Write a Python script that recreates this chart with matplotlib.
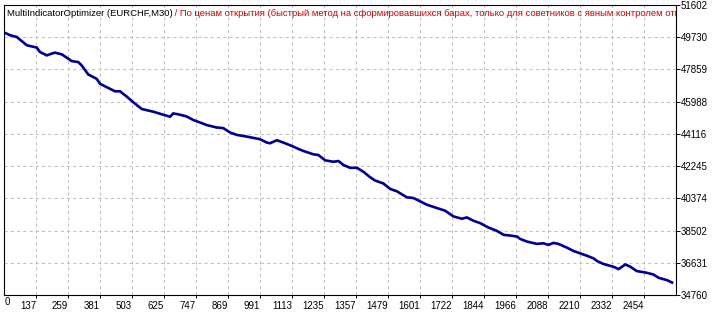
import matplotlib.pyplot as plt
import numpy as np

# balance curve
trades = [19, 38, 63, 82, 102, 140, 152, 178, 197, 209, 235, 254, 273, 298, 311,
          336, 368, 381, 407, 438, 457, 483, 508, 540, 584, 622, 648, 660, 673, 686,
          711, 737, 762, 788, 826, 851, 877, 902, 940, 959, 991, 1017, 1029, 1055,
          1080, 1112, 1131, 1156, 1194, 1213, 1239, 1270, 1290, 1309, 1334, 1360,
          1385, 1410, 1429, 1461, 1487, 1512, 1550, 1575, 1601, 1626, 1665, 1696,
          1728, 1760, 1779, 1804, 1830, 1861, 1893, 1919, 1944, 1970, 1982, 2008,
          2046, 2071, 2090, 2109, 2128, 2160, 2185, 2211, 2236, 2262, 2275, 2300,
          2338, 2357, 2383, 2402, 2427, 2465, 2490, 2510, 2542, 2561]
balance = [49982, 49848, 49749, 49515, 49263, 49129, 48871, 48678, 48778, 48836,
           48737, 48544, 48345, 48287, 48094, 47568, 47316, 47024, 46825, 46591,
           46591, 46281, 45948, 45562, 45404, 45229, 45112, 45305, 45270, 45229,
           45129, 44919, 44779, 44627, 44486, 44451, 44194, 44059, 43960, 43902,
           43808, 43609, 43574, 43749, 43609, 43416, 43282, 43124, 42931, 42890,
           42580, 42498, 42539, 42305, 42147, 42147, 41913, 41604, 41411, 41235,
           40919, 40785, 40434, 40393, 40200, 40007, 39808, 39657, 39323, 39189,
           39265, 39072, 38932, 38680, 38487, 38253, 38212, 38154, 38019, 37862,
           37727, 37762, 37669, 37786, 37727, 37511, 37318, 37177, 37043, 36885,
           36733, 36558, 36400, 36265, 36534, 36400, 36148, 36049, 35950, 35757,
           35622, 35482]

x_ticks = [137, 259, 381, 503, 625, 747, 869, 991, 1113, 1235, 1357, 1479,
           1601, 1722, 1844, 1966, 2088, 2210, 2332, 2454]
y_min, y_max = 34760, 51602

title_black = "MultiIndicatorOptimizer (EURCHF,M30)"
title_red = (" / По ценам открытия (быстрый метод на сформировавшихся барах, "
             "только для советников с явным контролем отк")

plt.rcParams['font.family'] = ['Liberation Sans', 'DejaVu Sans']

fig = plt.figure(figsize=(7.2, 3.12), dpi=100)
ax = fig.add_axes([4 / 720, 17 / 312, 672 / 720, 290 / 312])

ax.plot(trades, balance, color='#000092', lw=1.9, solid_joinstyle='miter')

ax.set_xlim(15, 2576)
ax.set_ylim(y_min, y_max)

yt = np.linspace(y_min, y_max, 10)
ax.set_yticks(yt)
ax.set_yticklabels([str(int(v)) for v in yt])
ax.set_xticks(x_ticks)
ax.set_xticklabels([str(v) for v in x_ticks], ha='right')

ax.yaxis.tick_right()
ax.tick_params(axis='y', direction='out', length=3, width=0.7, pad=0.5,
               labelsize=7, colors='black')
ax.tick_params(axis='x', direction='out', length=2.5, width=0.7, pad=1.5,
               labelsize=7, colors='black')

ax.grid(True, color='#c0c0c0', ls=(0, (3, 3)), lw=0.75)
for s in ax.spines.values():
    s.set_linewidth(0.8)
    s.set_color('black')

fig.text(5 / 720, 1 - 302 / 312, "0", fontsize=7, va='center', ha='left')

t1 = ax.text(0.004, 0.985, title_black, transform=ax.transAxes,
             fontsize=6.8, va='top', ha='left', color='black')
t2 = ax.annotate(title_red, xy=(1, 0), xycoords=t1, va='bottom', ha='left',
                 fontsize=6.8, color='#d00000', annotation_clip=False)
t2.set_clip_on(True)
t2.set_clip_box(ax.bbox)

fig.savefig('out.png', dpi=100, facecolor='white')
